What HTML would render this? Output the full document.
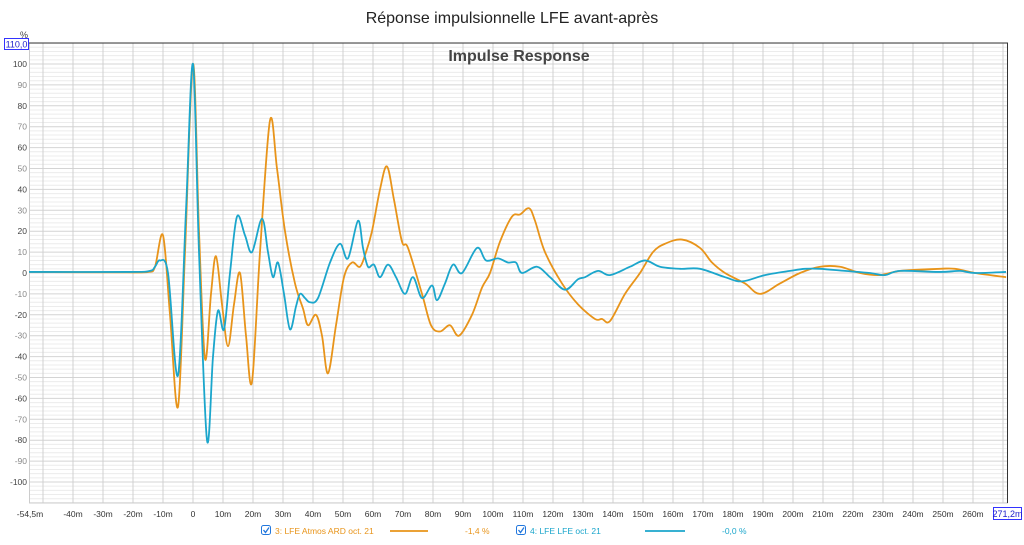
<!DOCTYPE html>
<html><head><meta charset="utf-8"><style>
body{margin:0;background:#fff;width:1024px;height:540px;overflow:hidden;font-family:"Liberation Sans",sans-serif}
</style></head><body>
<svg id="s" width="1024" height="540" xmlns="http://www.w3.org/2000/svg" font-family="Liberation Sans, sans-serif">
<text x="512" y="23" font-size="16" text-anchor="middle" fill="#222">Réponse impulsionnelle LFE avant-après</text>
<g id="grid"></g>
<line x1="29" y1="43" x2="1008" y2="43" stroke="#333" stroke-width="1"/>
<line x1="1007.5" y1="43" x2="1007.5" y2="503" stroke="#333" stroke-width="1"/>
<text x="519" y="61" font-size="16" font-weight="bold" text-anchor="middle" fill="#444">Impulse Response</text>
<text x="20" y="38" font-size="9" fill="#444">%</text>
<rect x="4.5" y="38.5" width="24" height="11" fill="#fff" stroke="#33f"/>
<text x="16.5" y="47.5" font-size="9" text-anchor="middle" fill="#22c">110,0</text>
<rect x="993.5" y="507.5" width="28" height="12" fill="#fff" stroke="#33f"/>
<text x="1007.5" y="517" font-size="9" text-anchor="middle" fill="#22c">271,2m</text>
<path id="o" fill="none" stroke="#e8941a" stroke-width="1.8"/>
<path id="b" fill="none" stroke="#1ba6cc" stroke-width="1.8"/>
<rect x="261.5" y="525.5" width="9" height="9" rx="2" fill="#fff" stroke="#2277dd"/>
<path d="M263.5 530 l2 2.5 l3.5 -5" stroke="#2277dd" fill="none" stroke-width="1.3"/>
<text x="275" y="534" font-size="8.5" fill="#e8941a">3: LFE Atmos ARD oct. 21</text>
<line x1="390" y1="531" x2="428" y2="531" stroke="#e8941a" stroke-width="1.8"/>
<text x="465" y="534" font-size="8.5" fill="#e8941a">-1,4 %</text>
<rect x="516.5" y="525.5" width="9" height="9" rx="2" fill="#fff" stroke="#2277dd"/>
<path d="M518.5 530 l2 2.5 l3.5 -5" stroke="#2277dd" fill="none" stroke-width="1.3"/>
<text x="530" y="534" font-size="8.5" fill="#1ba6cc">4: LFE LFE oct. 21</text>
<line x1="645" y1="531" x2="685" y2="531" stroke="#1ba6cc" stroke-width="1.8"/>
<text x="722" y="534" font-size="8.5" fill="#1ba6cc">-0,0 %</text>
</svg>
<script>
const ns="http://www.w3.org/2000/svg",g=document.getElementById('grid');
function el(t,a,txt){const e=document.createElementNS(ns,t);for(const k in a)e.setAttribute(k,a[k]);if(txt!=null)e.textContent=txt;g.appendChild(e);}
const Y=v=>273-2.09*v;
for(let v=-110;v<=110;v+=2){const y=Y(v);el('line',{x1:29,x2:1008,y1:y,y2:y,stroke:v%10==0?'#d4d4d4':'#ececec','stroke-width':1});}
for(let v=-100;v<=100;v+=10){el('text',{x:27,y:Y(v)+3,'font-size':8.5,'text-anchor':'end',fill:(v/10)%2==0?'#444':'#888'},String(v));}
for(let t=-50;t<=270;t+=10){const x=193+3*t;el('line',{x1:x,x2:x,y1:43,y2:503,stroke:'#d0d0d0','stroke-width':1});}
el('line',{x1:29.5,x2:29.5,y1:43,y2:503,stroke:'#ccc'});
el('line',{x1:29,x2:1008,y1:503,y2:503,stroke:'#ccc'});
el('text',{x:30,y:517,'font-size':8.5,'text-anchor':'middle',fill:'#333'},'-54,5m');
for(let t=-40;t<=260;t+=10){el('text',{x:193+3*t,y:517,'font-size':8.5,'text-anchor':'middle',fill:'#333'},t==0?'0':t+'m');}
function path(pts){let d='M'+pts[0][0]+' '+Y(pts[0][1]);for(let i=0;i<pts.length-1;i++){const p0=pts[Math.max(0,i-1)],p1=pts[i],p2=pts[i+1],p3=pts[Math.min(pts.length-1,i+2)];
const c1x=p1[0]+(p2[0]-p0[0])/6,c1y=Y(p1[1])+(Y(p2[1])-Y(p0[1]))/6,c2x=p2[0]-(p3[0]-p1[0])/6,c2y=Y(p2[1])-(Y(p3[1])-Y(p1[1]))/6;
d+=` C${c1x} ${c1y} ${c2x} ${c2y} ${p2[0]} ${Y(p2[1])}`;}return d;}
const O=[[29,0.5],[120,0.3],[148,0.5],[155,3],[163,18],[170,-20],[178,-64],[185,10],[193,100],[199,20],[205,-41],[211,-10],[216,8],[222,-15],[228,-35],[234,-15],[240,0],[246,-30],[252,-52],[260,10],[270,73],[277,50],[285,20],[295,-5],[303,-17],[308,-25],[316,-20],[322,-30],[328,-48],[336,-25],[344,-2],[352,5],[360,3],[366,10],[372,20],[380,40],[387,51],[394,35],[402,15],[408,12],[422,-10],[431,-25],[440,-28],[450,-25],[459,-30],[472,-20],[482,-7],[490,0],[500,15],[512,27],[520,28],[529,31],[535,25],[545,10],[562,-5],[578,-15],[595,-22],[602,-22],[610,-23],[625,-10],[640,0],[653,10],[665,14],[682,16],[700,12],[712,5],[725,0],[745,-5],[760,-10],[780,-5],[800,0],[820,3],[840,3],[860,0],[880,-1],[900,1],[940,2],[955,2],[975,0],[1006,-2]];
const B=[[29,0.5],[130,0.5],[150,1],[155,3],[160,6],[168,0],[178,-49],[186,30],[193,100],[199,10],[207,-80],[213,-40],[218,-18],[224,-27],[230,0],[237,27],[245,18],[252,10],[262,26],[268,10],[273,-2],[278,5],[284,-10],[290,-27],[296,-16],[300,-10],[305,-12],[310,-14],[318,-12],[330,5],[340,14],[348,7],[358,25],[363,12],[368,3],[374,4],[380,-2],[388,4],[396,-2],[405,-10],[413,-2],[422,-12],[432,-6],[437,-13],[445,-5],[453,4],[462,0],[477,12],[486,6],[498,7],[508,5],[516,5],[522,0],[537,3],[550,-2],[565,-8],[578,-3],[585,-2],[598,1],[610,-1],[630,3],[645,6],[660,3],[680,2],[700,2],[725,-2],[742,-4],[765,-1],[790,1],[805,2],[820,2],[845,1],[870,0],[885,-1],[900,1],[940,0.5],[960,1],[975,0],[1006,0.5]];
document.getElementById('o').setAttribute('d',path(O));
document.getElementById('b').setAttribute('d',path(B));
</script>
</body></html>
